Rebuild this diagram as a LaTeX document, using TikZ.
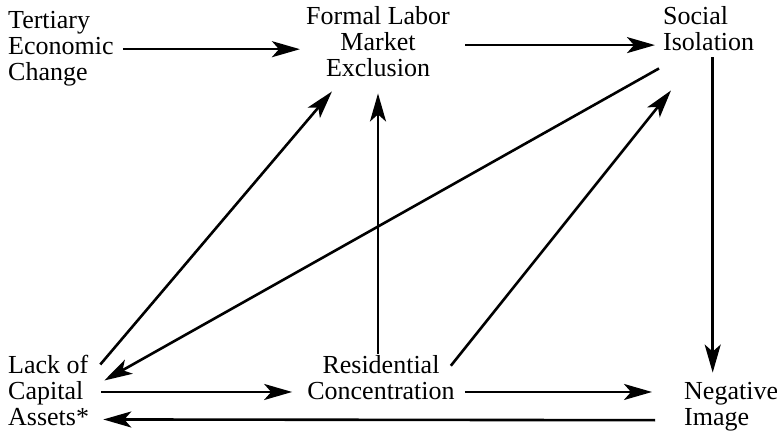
\documentclass[tikz,border=0pt]{standalone}
\usepackage{fontspec}
\setmainfont{Liberation Serif}
\usetikzlibrary{arrows.meta}
\tikzset{
  lbl/.style={inner sep=0pt, font=\fontsize{26}{26}\selectfont},
  arr/.style={line width=2.6pt, -{Stealth[length=28pt,width=16pt,inset=7pt]}},
}
\begin{document}
\begin{tikzpicture}[x=1pt,y=-1pt]
\useasboundingbox (0,0) rectangle (777,433);
\node[lbl, align=left, anchor=base west] (tert) at (8,81) {Tertiary\\Economic\\Change};
\node[lbl, align=center, anchor=base] (formal) at (378,77) {Formal Labor\\Market\\Exclusion};
\node[lbl, align=left, anchor=base west] (social) at (663,51) {Social\\Isolation};
\node[lbl, align=left, anchor=base west] (lack) at (8,425) {Lack of\\Capital\\Assets*};
\node[lbl, align=center, anchor=base] (resid) at (381,399) {Residential\\Concentration};
\node[lbl, align=left, anchor=base west] (neg) at (684,425) {Negative\\Image};
\coordinate (sx) at ([shift={(4,6)}]social.south);

\draw[arr] ([xshift=9pt]tert.east) -- ([xshift=-6pt]formal.west |- tert.east);
\draw[arr] ([shift={(15,3)}]formal.east) -- ([shift={(-8,3)}]social.west |- formal.east);
\draw[arr] (sx) -- ([yshift=9pt]neg.north -| sx);
\draw[arr] ([shift={(12,2)}]lack.east) -- ([shift={(-15,2)}]resid.west |- lack.east);
\draw[arr] ([shift={(10,2)}]resid.east |- lack.east) -- ([shift={(-32,2)}]neg.west |- lack.east);
\draw[arr] ([shift={(-29,14)}]neg.west) -- ([shift={(14,-6)}]lack.south east);
\draw[arr] ([shift={(-3,-1)}]resid.north) -- ([shift={(0,16)}]formal.south);
\draw[arr] ([shift={(11,10)}]lack.north east) -- ([shift={(26,14)}]formal.south west);
\draw[arr] ([shift={(-4,17)}]social.south west) -- ([shift={(15,26)}]lack.north east);
\draw[arr] ([shift={(-4,11)}]resid.north east) -- ([shift={(8,39)}]social.south west);
\end{tikzpicture}
\end{document}
